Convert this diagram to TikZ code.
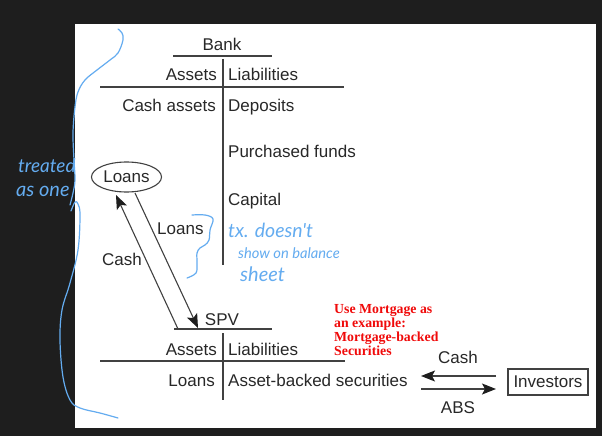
\documentclass[tikz,border=0pt]{standalone}
\usepackage{fontspec}
\setmainfont{Liberation Sans}
\newfontfamily\redserif{Liberation Serif}
\newfontfamily\handfont{Lato}
\usetikzlibrary{shapes.geometric,arrows.meta}
\definecolor{bgdark}{RGB}{30,30,30}
\definecolor{ink}{RGB}{40,40,40}
\definecolor{rulecol}{RGB}{65,65,65}
\definecolor{arrowcol}{RGB}{30,30,30}
\definecolor{pen}{RGB}{100,172,240}
\definecolor{notered}{RGB}{240,10,10}
\begin{document}
\begin{tikzpicture}[x=1pt,y=-1pt,
  lbl/.style={font=\fontsize{17}{19}\selectfont, text=ink, inner sep=0pt},
  tline/.style={draw=rulecol, line width=1.1pt},
  flow/.style={draw=rulecol, line width=1.1pt, -{Stealth[length=14pt,width=11pt,inset=3pt,color=arrowcol]}},
  redline/.style={font=\redserif\bfseries\fontsize{13.8}{14}\selectfont, text=notered, inner sep=0pt, anchor=base west},
  handw/.style={text=pen, font=\handfont\itshape\fontsize{#1}{#1}\selectfont, inner sep=0pt},
  brace/.style={draw=pen, line width=1.2pt, line cap=round, line join=round}]
\useasboundingbox (0,0) rectangle (602,436);
\fill[bgdark] (0,0) rectangle (602,436);
\fill[white] (75,24) rectangle (596,428);

% Bank T-account
\node[lbl, anchor=base] (bank) at (222,51) {Bank};
\draw[tline] (173,56) -- (272,56);
\draw[tline] (223,59) -- (223,265);
\draw[tline] (100,87) -- (344,87);
\node[lbl, anchor=base east] (bassets) at (217,80) {Assets};
\node[lbl, anchor=base west] (bliab) at (228,80) {Liabilities};
\node[lbl, anchor=base east] (cash) at (216,111) {Cash assets};
\node[lbl, anchor=base west] (dep) at (228,111) {Deposits};
\node[lbl, anchor=base west] (pf) at (228,157) {Purchased funds};
\node[lbl, anchor=base west] (cap) at (228,205) {Capital};

% Loans ellipse
\node[ellipse, draw=rulecol, line width=1.1pt, minimum width=70pt, minimum height=30pt, inner sep=0pt, lbl] (loans) at (126.5,177) {Loans};

% SPV T-account
\node[lbl, anchor=base] (spv) at (222,325) {SPV};
\draw[tline] (174,329) -- (272,329);
\draw[tline] (223,333) -- (223,400);
\draw[tline] (100,361) -- (345,361);
\node[lbl, anchor=base east] (sassets) at (217,355) {Assets};
\node[lbl, anchor=base west] (sliab) at (228,355) {Liabilities};
\node[lbl, anchor=base east] (sloans) at (215,386) {Loans};
\node[lbl, anchor=base west] (abs) at (228,386) {Asset-backed securities};

% arrows between bank loans and SPV
\coordinate (cashfrom) at (178,329);
\coordinate (cashto) at (116,195);
\coordinate (loansfrom) at (135,193);
\coordinate (loansto) at (198,328);
\draw[flow] (cashfrom) -- (cashto);
\draw[flow] (loansfrom) -- (loansto);
\node[lbl, anchor=base west] (loanslbl) at (157,234) {Loans};
\node[lbl, anchor=base west] (cashlbl) at (102,265) {Cash};

% Investors
\node[draw=rulecol, line width=1.1pt, minimum width=80pt, minimum height=26pt, lbl] (inv) at (548,382) {Investors};
\coordinate (c1from) at (496,376);
\coordinate (c1to) at (421,376);
\coordinate (a1from) at (421,389);
\coordinate (a1to) at (496,389);
\draw[flow] (c1from) -- (c1to);
\draw[flow] (a1from) -- (a1to);
\node[lbl, anchor=base] (cashr) at (458,363) {Cash};
\node[lbl, anchor=base] (absr) at (458,413) {ABS};

% red note
\node[redline] (r1) at (334,313) {Use Mortgage as};
\node[redline] (r2) at (334,327) {an example:};
\node[redline] (r3) at (334,341) {Mortgage-backed};
\node[redline] (r4) at (334,355) {Securities};

% handwritten annotations
\node[handw=19, anchor=base west] (h1) at (18,172) {treated};
\node[handw=20, anchor=base west] (h2) at (16,196) {as one};
\node[handw=19.5, anchor=base west] (h3) at (228,237) {tx. doesn't};
\node[handw=14.7, anchor=base west] (h4) at (238,258) {show on balance};
\node[handw=20, anchor=base west] (h5) at (240,281) {sheet};

\draw[brace] plot[smooth, tension=0.6] coordinates {(118,29) (122,33) (123,40) (118,53) (110,60) (97,70) (85,80) (78,92) (75,107) (73,133) (74,160) (75,180) (73,193) (70,205)};
\draw[brace] plot[smooth, tension=0.6] coordinates {(71,211) (75,202) (78,204) (80,215) (78,250) (70,283) (62,310) (60,340) (63,377) (70,400) (80,408) (100,413) (118,418)};
\draw[brace] plot[smooth, tension=0.6] coordinates {(192,215) (205,215) (213,219) (210,230) (209,240) (205,245) (200,248) (197,253) (197,263) (196,273) (187,278)};
\end{tikzpicture}
\end{document}
